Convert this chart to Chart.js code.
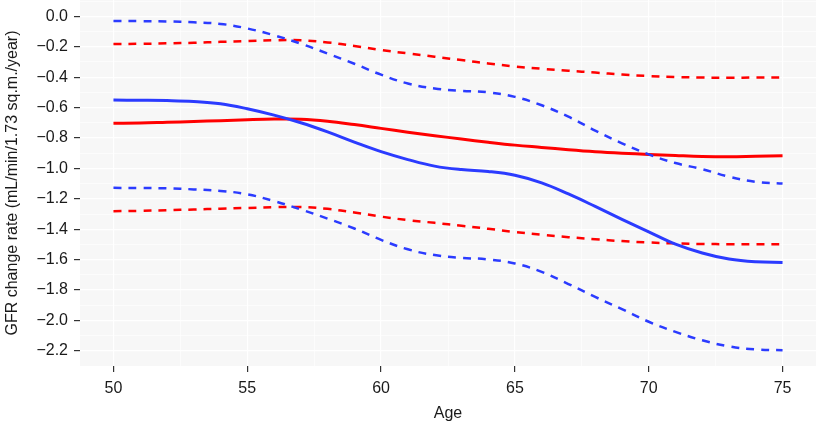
<!DOCTYPE html>
<html>
<head>
<meta charset="utf-8">
<script src="https://cdn.jsdelivr.net/npm/chart.js@4"></script>
<style>
  html, body { margin: 0; padding: 0; background: #fff; }
  #wrap { width: 817px; height: 425px; position: relative; }
</style>
</head>
<body>
<div id="wrap"><canvas id="gfrChart"></canvas></div>
<script>
// values, one per year of age
const ages = [50, 51, 52, 53, 54, 55, 56, 57, 58, 59, 60, 61, 62, 63, 64, 65, 66, 67, 68, 69, 70, 71, 72, 73, 74, 75];

const blueFit = [-0.551, -0.552, -0.554, -0.560, -0.575, -0.608, -0.650, -0.700, -0.760, -0.827, -0.890, -0.942, -0.985, -1.008, -1.020, -1.045, -1.095, -1.168, -1.250, -1.335, -1.417, -1.498, -1.556, -1.596, -1.614, -1.618];
const blueHi  = [-0.031, -0.032, -0.034, -0.040, -0.050, -0.080, -0.125, -0.180, -0.245, -0.312, -0.384, -0.442, -0.475, -0.490, -0.500, -0.530, -0.585, -0.660, -0.752, -0.835, -0.908, -0.965, -1.005, -1.055, -1.088, -1.099];
const blueLo  = [-1.128, -1.129, -1.131, -1.138, -1.148, -1.170, -1.215, -1.270, -1.330, -1.395, -1.470, -1.532, -1.570, -1.588, -1.598, -1.625, -1.680, -1.760, -1.845, -1.925, -2.008, -2.075, -2.130, -2.170, -2.190, -2.195];

const redFit = [-0.704, -0.702, -0.697, -0.692, -0.686, -0.680, -0.676, -0.677, -0.690, -0.712, -0.737, -0.762, -0.785, -0.807, -0.828, -0.847, -0.862, -0.877, -0.890, -0.900, -0.908, -0.915, -0.921, -0.923, -0.920, -0.917];
const redHi  = [-0.182, -0.181, -0.178, -0.174, -0.168, -0.163, -0.158, -0.158, -0.172, -0.195, -0.222, -0.244, -0.266, -0.288, -0.310, -0.330, -0.345, -0.358, -0.370, -0.383, -0.393, -0.399, -0.403, -0.404, -0.403, -0.402];
const redLo  = [-1.281, -1.279, -1.275, -1.270, -1.265, -1.260, -1.255, -1.254, -1.266, -1.290, -1.317, -1.340, -1.358, -1.377, -1.397, -1.418, -1.436, -1.452, -1.466, -1.478, -1.487, -1.493, -1.497, -1.498, -1.498, -1.498];

const xTicks = [50, 55, 60, 65, 70, 75];
const xTickLabels = ['50', '55', '60', '65', '70', '75'];
const xMinorTicks = [52.5, 57.5, 62.5, 67.5, 72.5];

const yTicks = [0, -0.2, -0.4, -0.6, -0.8, -1.0, -1.2, -1.4, -1.6, -1.8, -2.0, -2.2];
const yTickLabels = ['0.0', '\u22120.2', '\u22120.4', '\u22120.6', '\u22120.8', '\u22121.0', '\u22121.2', '\u22121.4', '\u22121.6', '\u22121.8', '\u22122.0', '\u22122.2'];
const yMinorTicks = [0.1, -0.1, -0.3, -0.5, -0.7, -0.9, -1.1, -1.3, -1.5, -1.7, -1.9, -2.1];

const BLUE = '#2b3bff';
const RED = '#ff0000';
const FONT = 'Liberation Sans, Arial, Helvetica, sans-serif';

const pts = arr => ages.map((a, i) => ({ x: a, y: arr[i] }));

function line(label, arr, color, dashed) {
    return {
        label,
        data: pts(arr),
        borderColor: color,
        borderWidth: dashed ? 2.5 : 3,
        borderDash: dashed ? [8, 7] : [],
        pointRadius: 0,
        fill: false,
        tension: 0.4
    };
}

function withMinor(major, minor) {
    return major.map(v => ({ value: v }))
        .concat(minor.map(v => ({ value: v, minor: true })))
        .sort((a, b) => a.value - b.value);
}

const panelBg = {
    id: 'panelBg',
    beforeDraw(chart) {
        const { ctx, chartArea: a } = chart;
        ctx.save();
        ctx.fillStyle = '#f7f7f7';
        ctx.fillRect(a.left, a.top, a.right - a.left, a.bottom - a.top);
        ctx.restore();
    }
};

const gridOpts = {
    color: '#ffffff',
    lineWidth: c => (c.tick && c.tick.minor ? 0.6 : 1.2),
    tickColor: c => (c.tick && c.tick.minor ? 'rgba(0,0,0,0)' : '#333333'),
    tickWidth: 1.2,
    tickLength: 6,
    drawOnChartArea: true
};

new Chart(document.getElementById('gfrChart'), {
    type: 'line',
    data: {
        datasets: [
            line('Blue upper', blueHi, BLUE, true),
            line('Blue lower', blueLo, BLUE, true),
            line('Blue fit', blueFit, BLUE, false),
            line('Red upper', redHi, RED, true),
            line('Red lower', redLo, RED, true),
            line('Red fit', redFit, RED, false)
        ]
    },
    options: {
        responsive: true,
        maintainAspectRatio: false,
        animation: false,
        layout: { padding: { top: 0, right: 1, bottom: 0, left: 0 } },
        plugins: { legend: { display: false }, tooltip: { enabled: false } },
        scales: {
            x: {
                type: 'linear',
                min: 48.75,
                max: 76.25,
                border: { display: false },
                grid: gridOpts,
                afterBuildTicks: s => { s.ticks = withMinor(xTicks, xMinorTicks); },
                afterFit: s => { s.height = 59; s.paddingLeft = 0; s.paddingRight = 0; },
                ticks: {
                    autoSkip: false,
                    maxRotation: 0,
                    padding: 7,
                    color: '#1a1a1a',
                    font: { family: FONT, size: 16 },
                    callback: v => { const i = xTicks.indexOf(v); return i >= 0 ? xTickLabels[i] : ''; }
                },
                title: {
                    display: true,
                    text: 'Age',
                    color: '#1a1a1a',
                    font: { family: FONT, size: 16 },
                    padding: { top: 0, bottom: 2 }
                }
            },
            y: {
                type: 'linear',
                min: -2.299,
                max: 0.107,
                border: { display: false },
                grid: gridOpts,
                afterBuildTicks: s => { s.ticks = withMinor(yTicks, yMinorTicks); },
                afterFit: s => { s.width = 80; s.paddingTop = 0; s.paddingBottom = 0; },
                ticks: {
                    autoSkip: false,
                    padding: 6,
                    color: '#1a1a1a',
                    font: { family: FONT, size: 16 },
                    callback: v => {
                        const i = yTicks.findIndex(t => Math.abs(t - v) < 1e-9);
                        return i >= 0 ? yTickLabels[i] : '';
                    }
                },
                title: {
                    display: true,
                    text: 'GFR change rate (mL/min/1.73 sq.m./year)',
                    color: '#1a1a1a',
                    font: { family: FONT, size: 16 },
                    padding: { top: 3, bottom: 0 }
                }
            }
        }
    },
    plugins: [panelBg]
});
</script>
</body>
</html>
